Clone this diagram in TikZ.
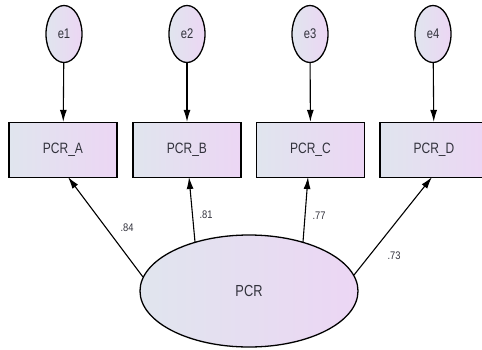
\documentclass[tikz,border=0pt]{standalone}
\usepackage{fontspec}
\setmainfont{Liberation Sans}
\usetikzlibrary{arrows.meta,shapes.geometric}
\definecolor{gl}{RGB}{224,229,238}
\definecolor{gr}{RGB}{236,214,244}
\definecolor{tx}{RGB}{50,50,60}
\begin{document}
\begin{tikzpicture}[x=1pt,y=-1pt,
  grad/.style={left color=gl, right color=gr},
  err/.style={ellipse, draw, line width=1.3pt, grad, minimum width=36pt, minimum height=57pt, inner sep=0pt, text=tx, font=\fontsize{14}{14}\selectfont},
  obs/.style={rectangle, draw, line width=1.3pt, grad, minimum width=108pt, minimum height=55pt, inner sep=0pt, text=tx, font=\fontsize{15}{15}\selectfont},
  lat/.style={ellipse, draw, line width=1.3pt, grad, minimum width=218pt, minimum height=112pt, inner sep=0pt, text=tx, font=\fontsize{16}{16}\selectfont},
  arr/.style={-{Latex[length=12pt,width=7pt]}, line width=1.1pt},
  wt/.style={font=\fontsize{11}{11}\selectfont, text=tx, inner sep=1pt}]
\useasboundingbox (0,0) rectangle (482,349);
\clip (0,0) rectangle (482,349);
\node[err] (e1) at (64,34) {\scalebox{0.8}[1]{e1}};
\node[err] (e2) at (187,34) {\scalebox{0.8}[1]{e2}};
\node[err] (e3) at (310,34) {\scalebox{0.8}[1]{e3}};
\node[err] (e4) at (433,34) {\scalebox{0.8}[1]{e4}};
\node[obs] (A) at (63,150) {\scalebox{0.8}[1]{PCR\_A}};
\node[obs] (B) at (187,150) {\scalebox{0.8}[1]{PCR\_B}};
\node[obs] (C) at (310.5,150) {\scalebox{0.8}[1]{PCR\_C}};
\node[obs] (D) at (434,150) {\scalebox{0.8}[1]{PCR\_D}};
\node[lat] (P) at (249,291) {\scalebox{0.8}[1]{PCR}};
\draw[arr] (e1) -- (A);
\draw[arr] (e2) -- (B);
\draw[arr] (e3) -- (C);
\draw[arr] (e4) -- (D);
\coordinate (pa) at (143,277);
\coordinate (pb) at (195,242);
\coordinate (pc) at (303,242);
\coordinate (pd) at (354,275);
\coordinate (ta) at (68,177);
\coordinate (tb) at (189,177);
\coordinate (tc) at (308,177);
\coordinate (td) at (432,177);
\draw[arr] (pa) -- (ta);
\draw[arr] (pb) -- (tb);
\draw[arr] (pc) -- (tc);
\draw[arr] (pd) -- (td);
\node[wt] (la) at (127,228) {\scalebox{0.85}[1]{.84}};
\node[wt] (lb) at (206,215) {\scalebox{0.85}[1]{.81}};
\node[wt] (lc) at (319,216) {\scalebox{0.85}[1]{.77}};
\node[wt] (ld) at (394,256) {\scalebox{0.85}[1]{.73}};
\end{tikzpicture}
\end{document}
